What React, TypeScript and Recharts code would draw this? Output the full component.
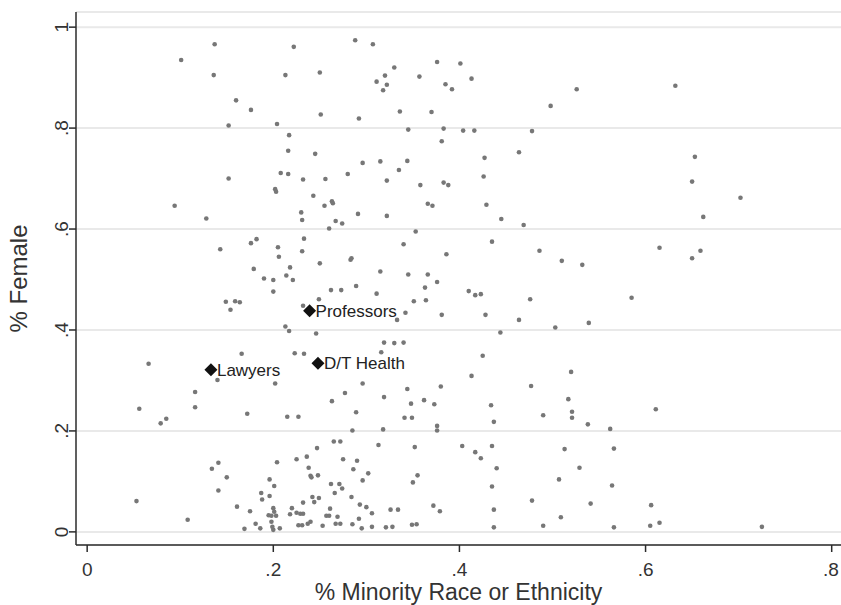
import React from 'react';
import { ScatterChart, Scatter, XAxis, YAxis, CartesianGrid, Label } from 'recharts';

// [% minority, % female] per occupation
const upperBand: [number, number][] = [
  [.137,.966],[.101,.935],[.136,.905],[.160,.855],[.176,.836],[.152,.805],[.152,.700],
  [.222,.961],[.288,.974],[.307,.966],[.213,.905],[.250,.910],[.330,.920],[.320,.904],[.311,.892],
  [.322,.886],[.318,.875],[.357,.902],[.376,.931],[.385,.887],[.392,.877],[.401,.928],[.251,.827],
  [.292,.819],[.336,.833],[.370,.832],[.204,.808],[.345,.797],[.383,.799],[.381,.774],[.217,.786],
  [.216,.755],[.245,.749],[.296,.731],[.315,.734],[.344,.735],[.335,.717],[.208,.711],[.216,.709],
  [.232,.698],[.256,.699],[.280,.709],[.322,.696],[.358,.687],[.383,.692],[.388,.687],[.202,.679],
  [.413,.898],[.526,.877],[.498,.844],[.404,.795],[.416,.795],[.478,.794],[.464,.752],[.427,.741],
  [.426,.704],[.632,.884],[.653,.743],[.650,.694],
];

const middleBand: [number, number][] = [
  [.094,.646],[.128,.621],[.143,.560],[.176,.572],[.182,.580],[.179,.521],[.190,.502],[.149,.456],
  [.159,.457],[.164,.455],[.154,.440],[.166,.353],[.066,.333],
  [.203,.674],[.243,.666],[.255,.646],[.263,.655],[.264,.651],[.230,.633],[.231,.618],[.291,.630],
  [.322,.626],[.267,.616],[.274,.611],[.260,.601],[.366,.650],[.371,.646],[.353,.595],[.233,.581],
  [.340,.570],[.205,.564],[.231,.556],[.206,.545],[.283,.539],[.284,.542],[.250,.532],[.386,.550],
  [.218,.524],[.214,.508],[.315,.516],[.345,.510],[.366,.510],[.200,.499],[.221,.499],[.376,.495],
  [.289,.487],[.363,.484],[.262,.479],[.273,.479],[.200,.476],[.311,.472],[.249,.461],[.351,.457],
  [.364,.459],[.232,.448],[.342,.434],[.381,.430],[.333,.420],[.213,.407],[.217,.398],[.246,.393],
  [.319,.375],[.330,.374],[.340,.375],[.316,.356],[.223,.354],[.233,.353],
  [.429,.648],[.445,.620],[.469,.608],[.435,.575],[.486,.557],[.510,.537],[.532,.529],[.410,.477],
  [.417,.469],[.423,.471],[.476,.461],[.585,.464],[.428,.430],[.464,.420],[.503,.405],[.539,.414],
  [.444,.395],[.425,.349],
  [.702,.662],[.662,.624],[.615,.563],[.659,.557],[.650,.542],
];

const lowerBand: [number, number][] = [
  [.140,.301],[.116,.277],[.116,.247],[.056,.244],[.079,.215],[.085,.224],[.172,.234],[.141,.137],
  [.134,.125],[.150,.108],[.141,.082],[.053,.061],[.108,.024],[.161,.050],[.175,.041],[.181,.016],
  [.169,.006],[.186,.007],[.195,.033],[.187,.077],[.188,.064],[.196,.104],[.196,.071],
  [.202,.294],[.296,.294],[.277,.275],[.263,.259],[.319,.267],[.344,.283],[.380,.288],[.348,.254],
  [.362,.261],[.373,.253],[.289,.237],[.215,.228],[.227,.228],[.341,.226],[.349,.226],[.285,.201],
  [.318,.203],[.376,.210],[.376,.201],[.265,.179],[.272,.179],[.313,.172],[.352,.168],[.247,.166],
  [.204,.138],[.225,.144],[.236,.149],[.275,.144],[.290,.141],[.238,.127],[.286,.124],[.302,.116],
  [.240,.111],[.241,.108],[.248,.112],[.355,.112],[.350,.098],[.296,.102],[.201,.091],[.262,.095],
  [.271,.095],[.274,.086],[.242,.069],[.249,.067],[.244,.059],[.266,.077],[.284,.069],[.232,.058],
  [.293,.054],[.300,.049],[.306,.037],[.372,.052],[.379,.041],[.326,.044],[.334,.044],[.261,.046],
  [.220,.047],[.200,.047],[.201,.040],[.218,.035],[.225,.038],[.229,.036],[.232,.036],[.257,.032],
  [.260,.032],[.269,.030],[.198,.032],[.203,.032],[.198,.020],[.200,.004],[.207,.007],[.199,.010],
  [.227,.013],[.231,.013],[.237,.016],[.240,.020],[.253,.012],[.267,.016],[.272,.016],[.285,.015],
  [.292,.026],[.295,.007],[.306,.010],[.321,.009],[.328,.010],[.349,.014],[.354,.015],
  [.413,.309],[.520,.317],[.477,.289],[.434,.251],[.437,.218],[.517,.263],[.490,.231],[.521,.238],
  [.521,.226],[.538,.213],[.562,.204],[.403,.170],[.417,.158],[.423,.146],[.435,.170],[.513,.164],
  [.566,.165],[.440,.126],[.529,.127],[.507,.104],[.435,.090],[.564,.092],[.478,.062],[.541,.056],
  [.437,.044],[.509,.029],[.606,.053],[.437,.009],[.490,.012],[.566,.009],[.605,.012],
  [.611,.243],[.615,.018],[.725,.010],
];

const highlightNames = ['Professors', 'Lawyers', 'D/T Health'];
const highlightMinority = [.239, .133, .248];
const highlightFemale = [.438, .321, .334];

const xTicks = [0, .2, .4, .6, .8];
const yTicks = [0, .2, .4, .6, .8, 1];

const FONT = '"Liberation Sans", Arial, Helvetica, sans-serif';

const occupations = [...upperBand, ...middleBand, ...lowerBand].map(([x, y]) => ({ x, y }));
const highlighted = highlightNames.map((name, i) => ({ name, x: highlightMinority[i], y: highlightFemale[i] }));

const fmt = (v: number) => (v === 0 ? '0' : v === 1 ? '1' : String(v).replace(/^0\./, '.'));

const XTick = ({ x, y, payload }: any) => (
  <text x={x} y={y + 22} textAnchor="middle" fontSize={19} fill="#333" fontFamily={FONT}>{fmt(payload.value)}</text>
);

const YTick = ({ x, y, payload }: any) => (
  <text x={x + 1} y={y} textAnchor="middle" fontSize={19} fill="#333" fontFamily={FONT}
    transform={`rotate(-90 ${x + 1} ${y})`}>{fmt(payload.value)}</text>
);

const Dot = ({ cx, cy }: any) => <circle cx={cx} cy={cy} r={2.3} fill="#777" />;

const Marked = ({ cx, cy, payload }: any) => (
  <g>
    <polygon points={`${cx},${cy - 6.5} ${cx + 6.5},${cy} ${cx},${cy + 6.5} ${cx - 6.5},${cy}`} fill="#111" />
    <text x={cx + 6} y={cy + 6} fontSize={17} fill="#222" fontFamily={FONT}>{payload.name}</text>
  </g>
);

export default function App() {
  return (
    <div style={{ position: 'absolute', left: 0, top: 0, background: '#fff' }}>
      <ScatterChart width={841} height={605} margin={{ top: 12, right: 0, bottom: 0, left: 0 }}>
        <CartesianGrid horizontal vertical={false} stroke="#e9e9e9" strokeWidth={2} />
        <XAxis type="number" dataKey="x" domain={[-0.012, 0.81]} ticks={xTicks} height={60}
          tickSize={7} allowDataOverflow stroke="#2b2b2b" strokeWidth={1.5} tick={<XTick />}>
          <Label content={({ viewBox }: any) => (
            <text x={viewBox.x + viewBox.width / 2} y={viewBox.y + 55} textAnchor="middle"
              fontSize={23} fill="#333" fontFamily={FONT}>% Minority Race or Ethnicity</text>
          )} />
        </XAxis>
        <YAxis type="number" dataKey="y" domain={[-0.026, 1.03]} ticks={yTicks} width={76}
          tickSize={7} allowDataOverflow stroke="#2b2b2b" strokeWidth={1.5} tick={<YTick />}>
          <Label content={({ viewBox }: any) => {
            const cx = viewBox.x + 27;
            const cy = viewBox.y + viewBox.height / 2;
            return (
              <text x={cx} y={cy} textAnchor="middle" fontSize={24} fill="#333" fontFamily={FONT}
                transform={`rotate(-90 ${cx} ${cy})`}>% Female</text>
            );
          }} />
        </YAxis>
        <Scatter data={occupations} shape={<Dot />} isAnimationActive={false} />
        <Scatter data={highlighted} shape={<Marked />} isAnimationActive={false} />
      </ScatterChart>
    </div>
  );
}
